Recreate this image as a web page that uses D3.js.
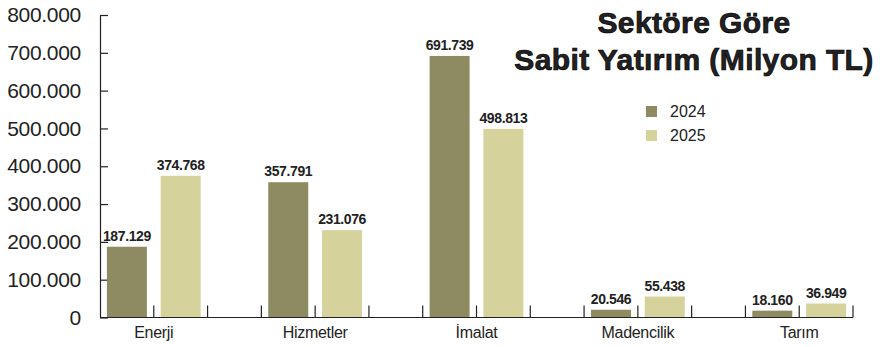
<!DOCTYPE html>
<html lang="tr">
<head>
<meta charset="utf-8">
<script src="https://cdn.jsdelivr.net/npm/d3@7"></script>
<style>
  html, body { margin: 0; padding: 0; background: #fff; }
  svg { display: block; }
  text { font-family: "Liberation Sans", Arial, Helvetica, sans-serif; fill: #222; }
</style>
</head>
<body>
<svg id="chart" width="880" height="347"></svg>
<script>
// Sabit yatırım, sektöre göre (milyon TL)
const categories = ["Enerji", "Hizmetler", "İmalat", "Madencilik", "Tarım"];
const years = ["2024", "2025"];
const values2024 = [187129, 357791, 691739, 20546, 18160];
const values2025 = [374768, 231076, 498813, 55438, 36949];
const yTicks = [0, 100000, 200000, 300000, 400000, 500000, 600000, 700000, 800000];
const titleLines = ["Sektöre Göre", "Sabit Yatırım (Milyon TL)"];
const colors = { "2024": "#8e8b62", "2025": "#d5d39b" };

const series = { "2024": values2024, "2025": values2025 };

const svg = d3.select("#chart");
const plotLeft = 100, plotRight = 853, plotTop = 15, plotBottom = 317.5;

// Turkish number formatting: dot as thousands separator
const trFormat = d3.formatLocale({ decimal: ",", thousands: ".", grouping: [3], currency: ["", " TL"] }).format(",d");

// Each sector takes three slots: 2024, 2025 and a gap (last sector has no trailing gap)
const slots = [];
categories.forEach((c, i) => {
  years.forEach(yr => slots.push(c + "|" + yr));
  if (i < categories.length - 1) slots.push(c + "|gap");
});

const x = d3.scaleBand().domain(slots).range([plotLeft, plotRight]).paddingInner(0).paddingOuter(0);
const barW = 40;

const y = d3.scaleLinear().domain([0, 800000]).range([plotBottom, plotTop]);

// Y axis: ticks pointing into the plot
const yAxis = d3.axisLeft(y).tickValues(yTicks).tickSizeInner(-8).tickSizeOuter(0)
  .tickPadding(19)
  .tickFormat(d => d === 0 ? "0" : trFormat(d));
const gy = svg.append("g").attr("transform", `translate(${plotLeft},0)`).call(yAxis);
gy.select(".domain").attr("stroke", "#222").attr("stroke-width", 1.2);
gy.selectAll(".tick line").attr("stroke", "#222").attr("stroke-width", 1.2);
gy.selectAll(".tick text").style("font-size", "21px").style("letter-spacing", "-0.3px").attr("fill", "#222");

// Bars
const flat = [];
categories.forEach((c, i) => years.forEach(yr => flat.push({ cat: c, year: yr, value: series[yr][i] })));

svg.append("g").selectAll("rect").data(flat).join("rect")
  .attr("x", d => x(d.cat + "|" + d.year) + (x.bandwidth() - barW) / 2)
  .attr("width", barW)
  .attr("y", d => y(d.value))
  .attr("height", d => y(0) - y(d.value))
  .attr("fill", d => colors[d.year]);

// Value labels
svg.append("g").selectAll("text").data(flat).join("text")
  .attr("x", d => x(d.cat + "|" + d.year) + x.bandwidth() / 2)
  .attr("y", d => y(d.value) - 6)
  .attr("text-anchor", "middle")
  .style("font-size", "14px")
  .style("font-weight", "bold")
  .style("letter-spacing", "-0.4px")
  .attr("fill", "#111")
  .text(d => trFormat(d.value));

// X axis: baseline with short inward ticks at every slot boundary
const boundaries = slots.map(s => x(s)).concat([plotRight]);
const gx = svg.append("g");
gx.append("line").attr("x1", plotLeft).attr("x2", plotRight).attr("y1", plotBottom).attr("y2", plotBottom)
  .attr("stroke", "#222").attr("stroke-width", 1.2);
gx.selectAll("line.tk").data(boundaries.slice(1)).join("line").attr("class", "tk")
  .attr("x1", d => d).attr("x2", d => d).attr("y1", plotBottom).attr("y2", plotBottom - 12)
  .attr("stroke", "#222").attr("stroke-width", 1.2);

gx.selectAll("text").data(categories).join("text")
  .attr("x", c => x(c + "|2025"))
  .attr("y", 338)
  .attr("text-anchor", "middle")
  .style("font-size", "16px")
  .style("letter-spacing", "-0.3px")
  .attr("fill", "#222")
  .text(c => c);

// Title
svg.append("g").selectAll("text").data(titleLines).join("text")
  .attr("x", 694)
  .attr("y", (d, i) => 33 + i * 37)
  .attr("text-anchor", "middle")
  .style("font-size", "30px")
  .style("font-weight", "bold")
  .style("letter-spacing", "0.4px")
  .attr("fill", "#000")
  .attr("stroke", "#000")
  .attr("stroke-width", 0.7)
  .text(d => d);

// Legend
const lg = svg.append("g").attr("transform", "translate(646,106)");
const li = lg.selectAll("g").data(years).join("g").attr("transform", (d, i) => `translate(0,${i * 24})`);
li.append("rect").attr("width", 11).attr("height", 11).attr("fill", d => colors[d]);
li.append("text").attr("x", 24).attr("y", 11).style("font-size", "16px").attr("fill", "#222").text(d => d);
</script>
</body>
</html>
